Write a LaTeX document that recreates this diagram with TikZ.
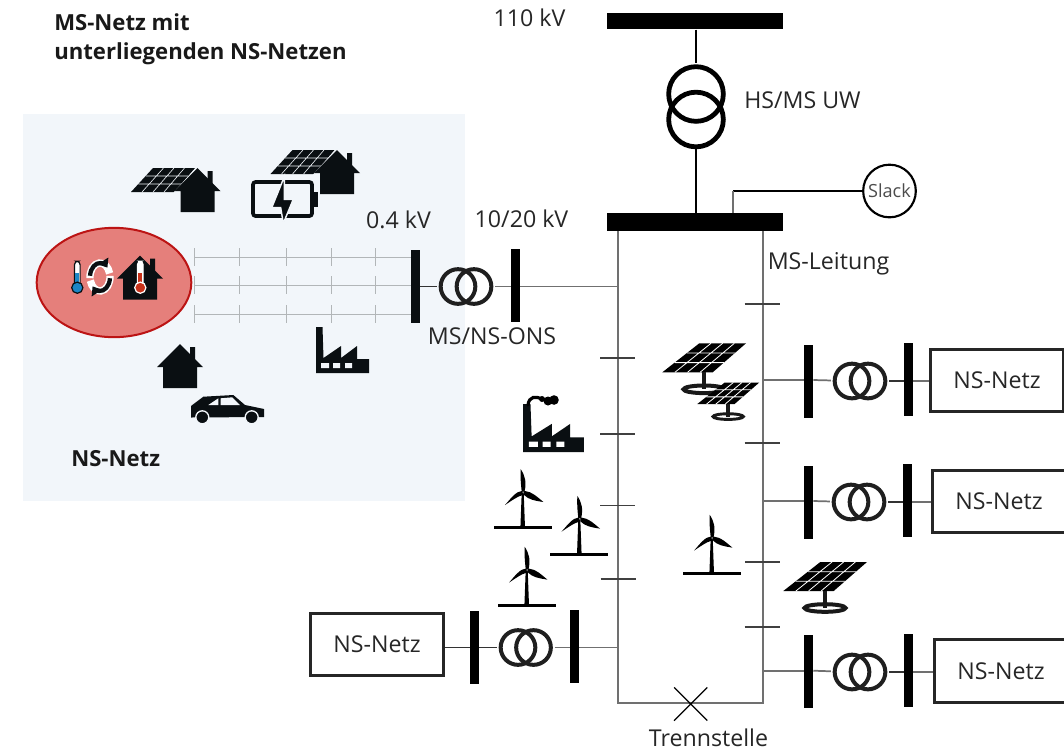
\documentclass[tikz,border=0pt]{standalone}
\usepackage{fontspec}
\setmainfont{Open Sans}
\usetikzlibrary{arrows.meta, shapes.geometric, shapes.misc}
\definecolor{lvbg}{HTML}{F2F6FA}
\definecolor{icondark}{HTML}{0A0F12}
\definecolor{linegray}{HTML}{707070}
\definecolor{lvgray}{HTML}{B2B6B8}
\definecolor{loadred}{HTML}{E57F7B}
\definecolor{loadedge}{HTML}{BC1414}
\definecolor{thermoblue}{HTML}{1C86C6}
\definecolor{thermored}{HTML}{C8321A}
\tikzset{
  lbl/.style={font=\fontsize{17.4pt}{20pt}\selectfont, color=black!85, inner sep=0pt},
  hdg/.style={font=\fontsize{16.6pt}{19pt}\selectfont\bfseries, color=black!90, inner sep=0pt},
  busv/.style={fill=black, inner sep=0pt, minimum width=6.75pt, minimum height=54.75pt},
  bush/.style={fill=black, inner sep=0pt, minimum width=132.5pt, minimum height=12.5pt},
  trkreis/.style={circle, draw=black!88, line width=3pt, inner sep=0pt, minimum size=26pt, outer sep=2.9pt},
  hkreis/.style={circle, draw=black, line width=3.6pt, inner sep=0pt, minimum size=41pt, outer sep=3pt},
  nsbox/.style={draw=black, line width=2.4pt, inner sep=0pt, minimum width=100pt, minimum height=47pt, lbl},
  leitung/.style={color=linegray, line width=1.3pt},
  stich/.style={color=black!80, line width=.9pt},
  kreuz/.style={color=black!75, line width=.8pt},
  nsline/.style={color=lvgray, line width=.65pt},
  pics/house/.style={code={
    \fill[icondark] (-23,23) -- (0,0) -- (23,23) -- (17,23) -- (17,44) -- (-17,44) -- (-17,23) -- cycle;
    \fill[icondark] (10,3) -- (15,3) -- (15,16) -- (10,11) -- cycle;
  }},
  pics/pvhouse/.style={code={
    \fill[icondark] (-66.5,24) -- (-22.5,24) -- (-2.5,0) -- (-44.5,0) -- cycle;
    \draw[lvbg, line width=.45pt] (-55.5,24) -- (-34,0) (-44.5,24) -- (-23.5,0) (-33.5,24) -- (-13,0)
      (-59.2,16) -- (-15.8,16) (-51.8,8) -- (-9.2,8);
    \draw[lvbg, line width=1pt] (-23.5,25) -- (-1,0);
    \pic {house};
  }},
  pics/pvstand/.style={code={
    \fill[black] (0,0) -- (50.4,0) -- (83.7,-29) -- (37,-29) -- cycle;
    \draw[white, line width=.6pt] (12.6,0) -- (48.7,-29) (25.2,0) -- (60.35,-29) (37.8,0) -- (72,-29)
      (12.3,-9.67) -- (61.5,-9.67) (24.7,-19.3) -- (72.6,-19.3);
    \draw[black!90, line width=#1] (41.7,17) ellipse [x radius=20.5, y radius=3.8];
    \draw[black!90, line width=3pt] (41.7,0) -- (41.7,17);
  }},
  pics/turbine/.style={code={
    \fill[black] (-29,-1.4) rectangle (29,1.4);
    \fill[black] (-2.3,0) -- (-1,-35) -- (1,-35) -- (2.3,0) -- cycle;
    \fill[black] (-1,-36) .. controls (-2.2,-48) .. (-2,-58.5) .. controls (2.5,-52) and (4,-45) .. (1.8,-36) -- cycle;
    \fill[black] (1,-37) -- (7,-35.5) .. controls (12,-33) .. (20.7,-25.7) .. controls (12,-27) and (6,-28) .. (1,-33) -- cycle;
    \fill[black] (0,-37) .. controls (-7,-36.5) and (-12,-29) .. (-17.7,-22.7) .. controls (-11,-27) and (-6,-31) .. (-.5,-32.5) -- cycle;
  }},
  pics/factory/.style={code={
    \fill[icondark] (0,0) -- (0,-46) -- (6.5,-46) -- (7.5,-15) -- (25,-27) -- (25,-15) -- (41,-27) -- (41,-14) -- (53,-14) -- (53,0) -- cycle;
    \fill[#1] (5,-10) rectangle (13,-5) (17,-10) rectangle (24,-5) (29,-10) rectangle (36,-5);
  }},
  pics/thermo/.style n args={2}{code={
    \draw[#2, line width=.9pt, fill=white, rounded corners=2.6] (-2.8,0) -- (-2.8,-26.5) -- (2.8,-26.5) -- (2.8,0) -- cycle;
    \fill[#1] (-1.9,0) rectangle (1.9,-15);
    \draw[#2, line width=.9pt, fill=#1] (0,0) circle (5.6);
  }}
}
\begin{document}
\begin{tikzpicture}[x=.75pt, y=-.75pt]
\useasboundingbox (0,0) rectangle (1064,751);
\clip (0,0) rectangle (1064,751);
\fill[lvbg] (23,114) rectangle (465,501);

% Texte
\node[hdg, anchor=west] (titel1) at (54,22) {MS-Netz mit};
\node[hdg, anchor=west] (titel2) at (54,54) {unterliegenden NS-Netzen};
\node[hdg, anchor=west] (titel3) at (71,459) {NS-Netz};
\node[lbl] (u110) at (529.5,18) {110 kV};
\node[lbl] (uwlbl) at (802.5,100) {HS/MS UW};
\node[lbl] (u04) at (398.5,220) {0.4 kV};
\node[lbl] (u1020) at (521.5,219) {10/20 kV};
\node[lbl] (onslbl) at (492,336) {MS/NS-ONS};
\node[lbl] (leitlbl) at (828.5,264) {MS-Leitung};
\node[lbl] (trennlbl) at (708.5,737.5) {Trennstelle};

% HS/MS Umspannwerk
\node[bush] (hsbus) at (695,21) {};
\node[bush, minimum height=13pt] (msbus) at (695,222) {};
\node[hkreis] (uwa) at (696,94) {};
\node[hkreis] (uwb) at (696,119.5) {};
\draw[stich, color=black] (uwa |- hsbus.south) -- (uwa.north);
\draw[stich, color=black, shorten <=-2pt] (uwb.south) -- (uwb |- msbus.north);
\node[circle, draw=black, line width=1.6pt, inner sep=0pt, minimum size=39.5pt, font=\fontsize{13.6pt}{15pt}\selectfont, text=black!70] (slack) at (889.5,191) {Slack};
\coordinate (slackab) at (733,191);
\draw[stich, color=black] (slack) -- (slackab);
\draw[leitung] (slackab) -- (slackab |- msbus.north);

% MS-Ring
\coordinate (rl) at (617.7,703);
\coordinate (rr) at (762.7,703);
\draw[leitung] (msbus.south -| rl) -- (rl) -- (rr) -- (msbus.south -| rr);
\node[cross out, draw=black, line width=.9pt, inner sep=0pt, minimum size=24pt] (trenn) at (690.7,704) {};
\draw[kreuz] (600,358) -- ++(35,0) (600,434) -- ++(35,0) (600,505.7) -- ++(35,0) (600.7,579) -- ++(35,0);
\draw[kreuz] (744.5,304) -- ++(35,0) (744.5,443) -- ++(35,0) (745,562) -- ++(35,0) (744.5,627) -- ++(35,0);

% NS-Netz
\node[ellipse, draw=loadedge, fill=loadred, line width=1.5pt, inner sep=0pt, minimum width=116pt, minimum height=82pt] (last) at (114,282.5) {};
\node[busv, fill=icondark] (lvbus) at (415.5,286.5) {};
\coordinate (n1) at (194,257);
\coordinate (n2) at (194,285);
\coordinate (n3) at (194,314);
\draw[nsline] (n1) -- (n1 -| lvbus.west);
\draw[nsline] (n2) -- (n2 -| lvbus.west);
\draw[nsline] (n3) -- (n3 -| lvbus.west);
\draw[nsline] (194,248) -- ++(0,18) (239,248) -- ++(0,18) (286,248) -- ++(0,18) (331,248) -- ++(0,18) (375,248) -- ++(0,18);
\draw[nsline] (194,276) -- ++(0,18) (239,276) -- ++(0,18) (286,276) -- ++(0,18) (331,276) -- ++(0,18) (375,276) -- ++(0,18);
\draw[nsline] (194,305) -- ++(0,18) (239,305) -- ++(0,18) (286,305) -- ++(0,18) (331,305) -- ++(0,18) (375,305) -- ++(0,18);

% MS/NS-ONS
\node[trkreis] (onsa) at (458,286.5) {};
\node[trkreis] (onsb) at (474,286.5) {};
\node[busv] (onsbus) at (515.5,285.5) {};
\draw[stich] (lvbus.east |- onsa) -- (onsa);
\draw[leitung] (onsb) -- (onsb -| onsbus.west);
\draw[leitung] (onsbus.east |- onsb) -- (onsb -| rl);

% Abgang unten links
\node[nsbox] (nsl) at (377,644.5) {NS-Netz};
\node[busv] (blbusa) at (474.5,647.5) {};
\node[trkreis] (blta) at (518,647.5) {};
\node[trkreis] (bltb) at (533.5,647.5) {};
\node[busv] (blbusb) at (574.5,646.5) {};
\draw[stich] (nsl.east |- blta) -- (blbusa.west |- blta);
\draw[stich] (blbusa.east |- blta) -- (blta);
\draw[leitung] (bltb) -- (bltb -| blbusb.west);
\draw[leitung] (blbusb.east |- bltb) -- (bltb -| rl);

% Abgang 1
\coordinate (ra) at (762.7,380);
\node[busv] (abusa) at (808.5,381.5) {};
\node[trkreis] (ata) at (852,381) {};
\node[trkreis] (atb) at (868,381) {};
\node[busv] (abusb) at (908.5,379.5) {};
\node[nsbox] (nsa) at (997,380.5) {NS-Netz};
\draw[leitung] (ra) -- (ra -| abusa.west);
\draw[leitung] (abusa.east |- ra) -- (ata);
\draw[stich] (atb) -- (atb -| abusb.west);
\draw[leitung] (abusb.east |- atb) -- (atb -| nsa.west);

% Abgang 2
\coordinate (rb) at (762.7,501);
\node[busv] (bbusa) at (808.5,502.5) {};
\node[trkreis] (bta) at (851,502) {};
\node[trkreis] (btb) at (867,502) {};
\node[busv] (bbusb) at (907.5,500.5) {};
\node[nsbox] (nsb) at (999,501.5) {NS-Netz};
\draw[leitung] (rb) -- (rb -| bbusa.west);
\draw[leitung] (bbusa.east |- rb) -- (bta);
\draw[stich] (btb) -- (btb -| bbusb.west);
\draw[leitung] (bbusb.east |- btb) -- (btb -| nsb.west);

% Abgang 3
\coordinate (rc) at (762.7,670.7);
\node[busv] (cbusa) at (808.5,671.5) {};
\node[trkreis] (cta) at (852,672) {};
\node[trkreis] (ctb) at (868,672) {};
\node[busv] (cbusb) at (908.5,670.5) {};
\node[nsbox] (nsc) at (1001,671) {NS-Netz};
\draw[leitung] (rc) -- (rc -| cbusa.west);
\draw[leitung] (cbusa.east |- rc) -- (cta);
\draw[stich] (ctb) -- (ctb -| cbusb.west);
\draw[leitung] (cbusb.east |- ctb) -- (ctb -| nsc.west);

% Erzeuger und Lasten im MS-Netz
\pic at (662.3,372.3) {pvstand=3pt};
\pic[scale=.74] at (697.3,404) {pvstand=2.2pt};
\pic at (783.3,591) {pvstand=3pt};
\pic at (522.7,527.7) {turbine};
\pic at (579.3,554.3) {turbine};
\pic at (526.7,605.3) {turbine};
\pic at (711.7,573.3) {turbine};
\pic[xscale=1.15, yscale=1.04] at (523,452) {factory=white};
\draw[black, line width=2.4pt, line cap=round] (528,405) .. controls (529,396) and (536,396) .. (542,399);
\fill[black] (542,399) circle (3) (548,401) circle (4.5) (554,400) circle (4.8);

% Erzeuger und Lasten im NS-Netz
\pic at (197.5,168) {pvhouse};
\pic at (337,150) {pvhouse};
\draw[icondark, line width=2.8pt, rounded corners=2pt] (253,182) rectangle (312,216);
\fill[icondark] (313,192) rectangle (318,207);
\fill[icondark, draw=lvbg, line width=1.1pt] (284.3,176.7) -- (271.7,207.7) -- (280.7,207.7) -- (283.3,223.3) -- (293.3,199.3) -- (284.3,199.3) -- cycle;
\pic at (180,344) {house};
\pic at (316,373) {factory=lvbg};
\fill[icondark] (191,417.5) -- (191,406) -- (203.3,396.7) -- (233.3,395) -- (245,405) -- (264,409) -- (264,417) -- cycle;
\fill[lvbg] (208.3,405) -- (218.3,398.3) -- (218.3,405) -- cycle (220.7,398.3) -- (232.3,397.3) -- (240,405) -- (220.7,405) -- cycle;
\fill[icondark, draw=lvbg, line width=1pt] (202.3,417.3) circle (6.5) (251.7,417.3) circle (6.5);

% Waermepumpe
\pic at (77.3,287.7) {thermo={thermoblue}{icondark}};
\draw[white, line width=5.5pt] (100,277) ++(175:10 and 14) arc [start angle=175, end angle=345, x radius=10, y radius=14];
\draw[white, line width=5.5pt] (100,277) ++(-5:10 and 14) arc [start angle=-5, end angle=165, x radius=10, y radius=14];
\draw[icondark, line width=3.2pt, -{Triangle[length=6pt, width=9pt]}] (100,277) ++(185:10 and 14) arc [start angle=185, end angle=318, x radius=10, y radius=14];
\draw[icondark, line width=3.2pt, -{Triangle[length=6pt, width=9pt]}] (100,277) ++(5:10 and 14) arc [start angle=5, end angle=138, x radius=10, y radius=14];
\pic at (140,255.7) {house};
\pic at (140.3,287.7) {thermo={thermored}{white}};
\end{tikzpicture}
\end{document}
